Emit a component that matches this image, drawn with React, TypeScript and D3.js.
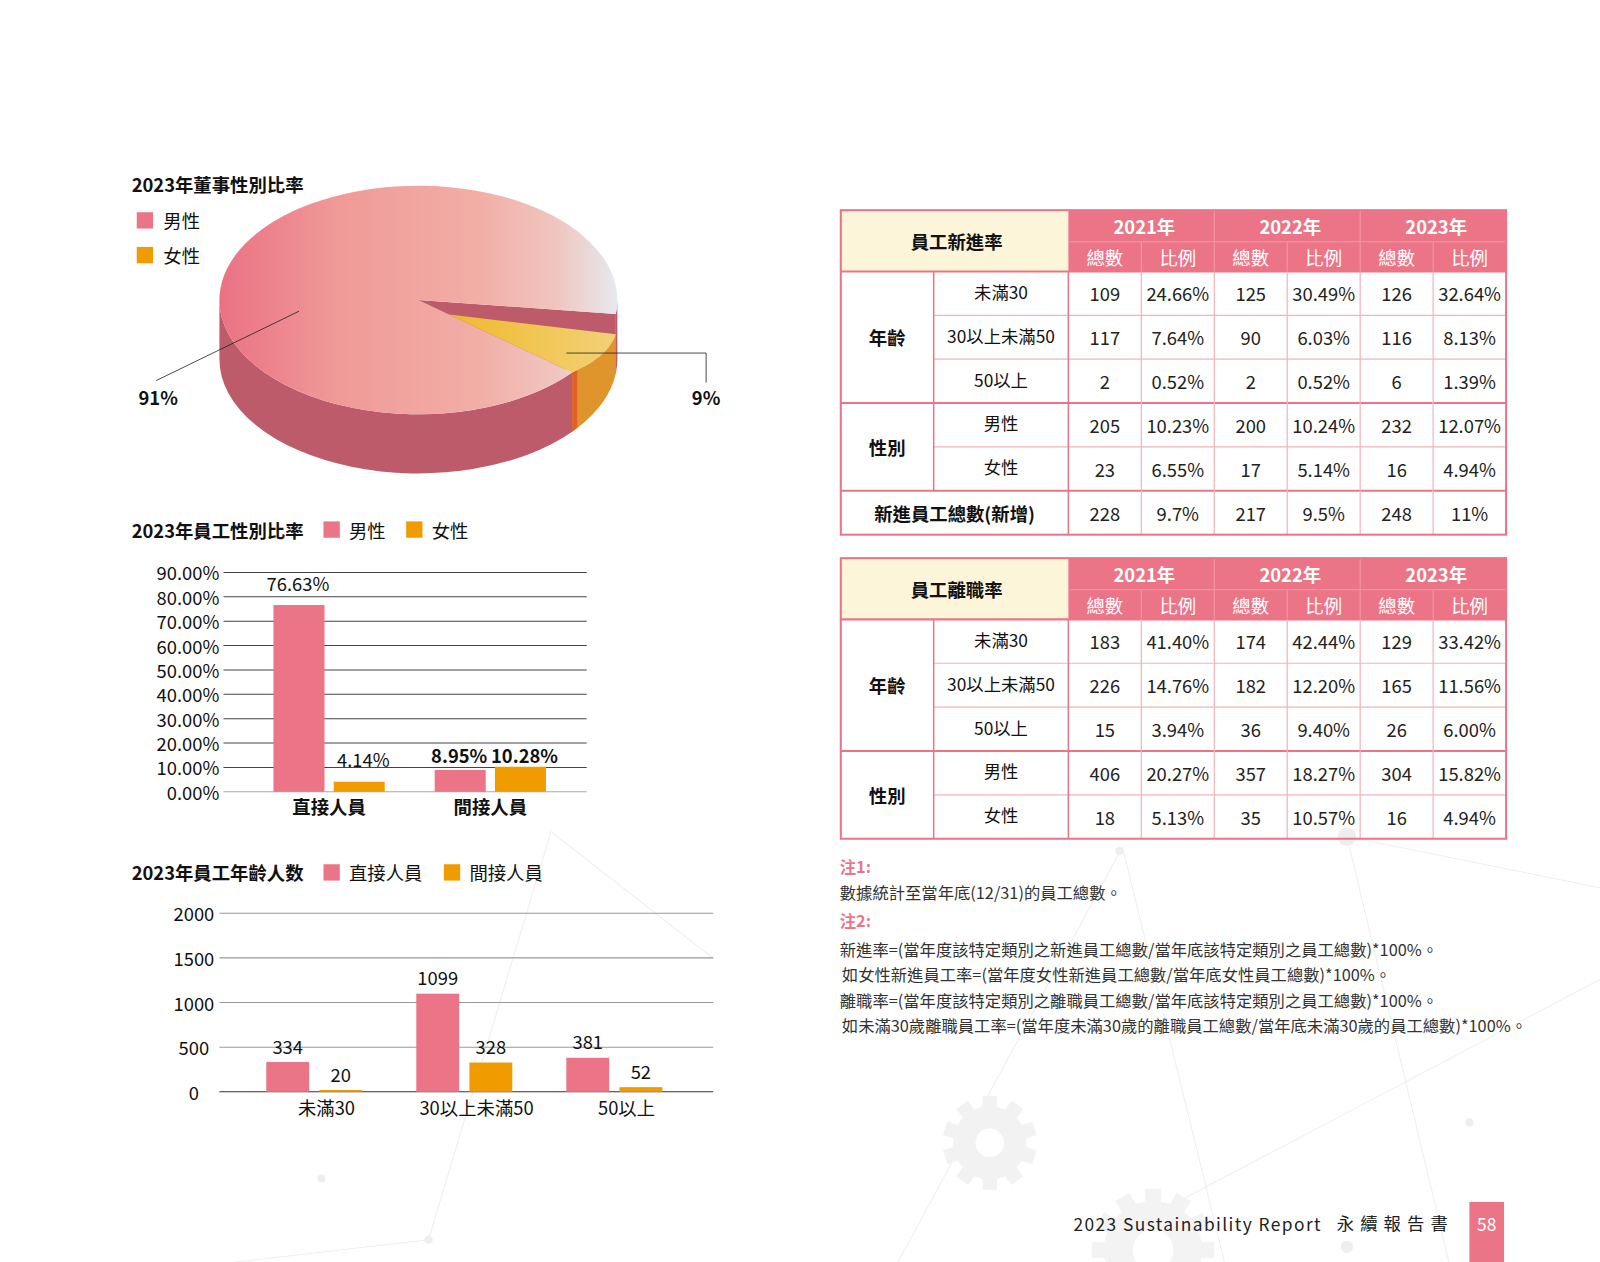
import { scaleBand, scaleLinear, pie, format, range } from "d3";

// ---- data ----
const genderLabels = ["男性", "女性"];
const boardShare = [91, 9];
const boardLabels = ["91%", "9%"];

const staffTypes = ["直接人員", "間接人員"];
const maleRatio = [76.63, 8.95];
const femaleRatio = [4.14, 10.28];

const ageGroups = ["未滿30", "30以上未滿50", "50以上"];
const directCount = [334, 1099, 381];
const indirectCount = [20, 328, 52];

const years = ["2021年", "2022年", "2023年"];
const subHeads = ["總數", "比例"];
const rowLabels = ["未滿30", "30以上未滿50", "50以上", "男性", "女性"];
const hireRows = [
  ["109", "24.66%", "125", "30.49%", "126", "32.64%"],
  ["117", "7.64%", "90", "6.03%", "116", "8.13%"],
  ["2", "0.52%", "2", "0.52%", "6", "1.39%"],
  ["205", "10.23%", "200", "10.24%", "232", "12.07%"],
  ["23", "6.55%", "17", "5.14%", "16", "4.94%"],
];
const hireTotal = ["228", "9.7%", "217", "9.5%", "248", "11%"];
const leaveRows = [
  ["183", "41.40%", "174", "42.44%", "129", "33.42%"],
  ["226", "14.76%", "182", "12.20%", "165", "11.56%"],
  ["15", "3.94%", "36", "9.40%", "26", "6.00%"],
  ["406", "20.27%", "357", "18.27%", "304", "15.82%"],
  ["18", "5.13%", "35", "10.57%", "16", "4.94%"],
];

const notes = [
  "新進率=(當年度該特定類別之新進員工總數/當年底該特定類別之員工總數)*100%。",
  "如女性新進員工率=(當年度女性新進員工總數/當年底女性員工總數)*100%。",
  "離職率=(當年度該特定類別之離職員工總數/當年底該特定類別之員工總數)*100%。",
  "如未滿30歲離職員工率=(當年度未滿30歲的離職員工總數/當年底未滿30歲的員工總數)*100%。",
];

const PINK = "#eb7587";
const ORANGE = "#f09c00";
const FONT = "'Noto Sans CJK TC', 'Noto Sans', sans-serif";

// ---- 3D pie ----
function Pie3D() {
  const cx = 410, cy = 294, rx = 195, ry = 112, depth = 58;
  const drop = 20; // how far the small slice sits below the big one at its outer edge
  const tStart = (7 * Math.PI) / 180;
  // order: female slice first, then male slice going clockwise
  const arcs = pie<number>()
    .sort(null)
    .startAngle(tStart + Math.PI / 2)
    .endAngle(tStart + Math.PI / 2 + 2 * Math.PI)([boardShare[1], boardShare[0]]);
  const fem = arcs[0], male = arcs[1];
  const toT = (a: number) => a - Math.PI / 2;

  const px = (t: number) => cx + rx * Math.cos(t);
  const py = (t: number, z = 0) => cy + ry * Math.sin(t) + z;
  const pt = (t: number, z = 0) => `${px(t)},${py(t, z)}`;

  const m0 = toT(male.startAngle), m1 = toT(male.endAngle);
  const f0 = toT(fem.startAngle), f1 = toT(fem.endAngle);

  const maleTop = `M${cx},${cy}L${pt(m0)}A${rx},${ry} 0 1 1 ${pt(m1)}Z`;
  const wall = (lo: number, hi: number) =>
    `M${pt(lo)}A${rx},${ry} 0 0 1 ${pt(hi)}L${pt(hi, depth)}A${rx},${ry} 0 0 0 ${pt(lo, depth)}Z`;
  const maleWalls = [wall(m0, Math.PI), wall(2 * Math.PI, m1)].join("");
  const maleFace = `M${cx},${cy}L${pt(m1)}L${pt(m1, depth)}L${cx},${cy + depth}Z`;

  // small slice: apex sits on the big slice's edge, top tilts down toward the outer rim
  const ax = cx + 0.2 * (px(f1) - cx), ay = cy + 0.2 * (py(f1) - cy);
  const ts = range(0, 21).map((i) => f0 + ((f1 - f0) * i) / 20);
  const zf = (t: number) => (drop * (f1 - t)) / (f1 - f0);
  const rim = ts.map((t) => `${px(t)},${py(t, zf(t))}`);
  const femTop = `M${ax},${ay}L${rim.join("L")}Z`;
  const femWall = `M${rim.join("L")}L${ts.slice().reverse().map((t) => pt(t, depth)).join("L")}Z`;
  const sx = px(f1), sy = py(f1);
  const femFace = `M${sx},${sy}L${sx + 5},${sy - 3}L${sx + 5},${sy + depth - 4}L${sx},${sy + depth}Z`;

  return (
    <g>
      <defs>
        <linearGradient id="maleTop" gradientUnits="userSpaceOnUse" x1={215} x2={605} y1={0} y2={0}>
          <stop offset="0" stopColor="#ea7283" />
          <stop offset="0.3" stopColor="#f09a98" />
          <stop offset="0.65" stopColor="#f2aea6" />
          <stop offset="0.85" stopColor="#f0c6c0" />
          <stop offset="1" stopColor="#e6e9ef" />
        </linearGradient>
        <linearGradient id="femTop" gradientUnits="userSpaceOnUse" x1={440} x2={610} y1={0} y2={0}>
          <stop offset="0" stopColor="#efb92c" />
          <stop offset="1" stopColor="#f2d27a" />
        </linearGradient>
      </defs>
      <path d={maleFace} fill="#bd5b6b" />
      <path d={maleWalls} fill="#bd5b6b" />
      <path d={maleTop} fill="url(#maleTop)" />
      <path d={femWall} fill="#e0952c" />
      <path d={femFace} fill="#e0602a" />
      <path d={femTop} fill="url(#femTop)" />
      {/* leader lines */}
      <polyline points="293,305 153,373" fill="none" stroke="#222" strokeWidth={0.8} />
      <polyline points="555,346 692,346 692,375" fill="none" stroke="#222" strokeWidth={0.8} />
      <text x={155} y={389} textAnchor="middle" dominantBaseline="central" fontWeight={700} fontSize={18}>
        {boardLabels[0]}
      </text>
      <text x={692} y={389} textAnchor="middle" dominantBaseline="central" fontWeight={700} fontSize={18}>
        {boardLabels[1]}
      </text>
    </g>
  );
}

function PieBlock() {
  return (
    <g>
      <text x={129} y={180} dominantBaseline="central" fontWeight={700} fontSize={18}>
        2023年董事性別比率
      </text>
      {genderLabels.map((g, i) => (
        <g key={g}>
          <rect x={134} y={208 + i * 34} width={16} height={16} fill={i === 0 ? PINK : ORANGE} />
          <text x={160} y={216 + i * 34} dominantBaseline="central" fontSize={18}>
            {g}
          </text>
        </g>
      ))}
      <Pie3D />
    </g>
  );
}

// ---- gender ratio bar chart ----
function RatioChart() {
  const y = scaleLinear().domain([0, 90]).range([776, 561]);
  const x = scaleBand<string>().domain(staffTypes).range([243.5, 559.5]).paddingInner(0.31).paddingOuter(0.155);
  const xs = scaleBand<string>().domain(genderLabels).range([0, x.bandwidth()]).paddingInner(0.153);
  const ticks = y.ticks(9);
  const fmt = format(".2f");
  const series = [maleRatio, femaleRatio];
  return (
    <g>
      <text x={129} y={519} dominantBaseline="central" fontWeight={700} fontSize={18}>
        2023年員工性別比率
      </text>
      <rect x={317} y={511} width={16} height={16} fill={PINK} />
      <text x={342} y={519} dominantBaseline="central" fontSize={18}>男性</text>
      <rect x={398} y={511} width={16} height={16} fill={ORANGE} />
      <text x={423} y={519} dominantBaseline="central" fontSize={18}>女性</text>
      {ticks.map((t) => (
        <g key={t}>
          <line x1={219} x2={575} y1={y(t)} y2={y(t)} stroke={t === 0 ? "#aaa" : "#444"} strokeWidth={1} />
          <text x={215} y={y(t)} textAnchor="end" dominantBaseline="central" fontSize={18}>
            {fmt(t)}%
          </text>
        </g>
      ))}
      {staffTypes.map((s, i) => (
        <g key={s}>
          {series.map((vals, j) => {
            const bx = x(s)! + xs(genderLabels[j])!;
            return (
              <g key={j}>
                <rect x={bx} y={y(vals[i])} width={xs.bandwidth()} height={y(0) - y(vals[i])} fill={j === 0 ? PINK : ORANGE} />
                <text
                  x={bx + xs.bandwidth() / 2 + (j === 0 ? -1 : 4)}
                  y={i === 1 ? 740 : y(vals[i]) - 22}
                  textAnchor="middle"
                  dominantBaseline="central"
                  fontSize={18}
                  fontWeight={i === 1 ? 700 : 400}
                >
                  {vals[i].toFixed(2)}%
                </text>
              </g>
            );
          })}
          <text x={x(s)! + x.bandwidth() / 2} y={790} textAnchor="middle" dominantBaseline="central" fontWeight={700} fontSize={18}>
            {s}
          </text>
        </g>
      ))}
    </g>
  );
}

// ---- age count bar chart ----
function AgeChart() {
  const y = scaleLinear().domain([0, 2000]).range([1070, 895]);
  const x = scaleBand<string>().domain(ageGroups).range([213, 697]).paddingInner(0.36).paddingOuter(0.326);
  const xs = scaleBand<string>().domain(staffTypes).range([0, x.bandwidth()]).paddingInner(0.192);
  const ticks = y.ticks(4);
  const series = [directCount, indirectCount];
  return (
    <g>
      <text x={129} y={855} dominantBaseline="central" fontWeight={700} fontSize={18}>
        2023年員工年齡人数
      </text>
      <rect x={317} y={847} width={16} height={16} fill={PINK} />
      <text x={342} y={855} dominantBaseline="central" fontSize={18}>{staffTypes[0]}</text>
      <rect x={435} y={847} width={16} height={16} fill={ORANGE} />
      <text x={460} y={855} dominantBaseline="central" fontSize={18}>{staffTypes[1]}</text>
      {ticks.map((t) => (
        <g key={t}>
          <line x1={215} x2={699} y1={y(t)} y2={y(t)} stroke={t === 0 ? "#333" : "#999"} strokeWidth={1} />
          <text x={190} y={y(t)} textAnchor="middle" dominantBaseline="central" fontSize={18}>
            {t}
          </text>
        </g>
      ))}
      {ageGroups.map((g, i) => (
        <g key={g}>
          {series.map((vals, j) => {
            const bx = x(g)! + xs(staffTypes[j])!;
            return (
              <g key={j}>
                <rect x={bx} y={y(vals[i])} width={xs.bandwidth()} height={y(0) - y(vals[i])} fill={j === 0 ? PINK : ORANGE} />
                <text x={bx + xs.bandwidth() / 2} y={y(vals[i]) - 16} textAnchor="middle" dominantBaseline="central" fontSize={18}>
                  {vals[i]}
                </text>
              </g>
            );
          })}
          <text x={x(g)! + x.bandwidth() / 2 + 12} y={1085} textAnchor="middle" dominantBaseline="central" fontSize={18}>
            {g}
          </text>
        </g>
      ))}
    </g>
  );
}

// ---- tables ----
type TableProps = { top: number; title: string; rows: string[][]; total?: string[]; totalLabel?: string };

function DataTable({ top, title, rows, total, totalLabel }: TableProps) {
  const left = 824, right = 1476, c1 = 915, c2 = 1047;
  const h1 = 31, h2 = 29, rh = 43;
  const bodyTop = top + h1 + h2;
  const allRows = total ? rows.length + 1 : rows.length;
  const bottom = bodyTop + allRows * rh;
  const cols = scaleBand<number>().domain([0, 1, 2, 3, 4, 5]).range([c2, right]);
  const yrs = scaleBand<string>().domain(years).range([c2, right]);
  const ry = scaleBand<number>().domain(Array.from({ length: allRows }, (_, i) => i)).range([bodyTop, bottom]);
  const light = "#f5b3bc";
  return (
    <g>
      <rect x={left} y={top} width={c2 - left} height={h1 + h2} fill="#fdf5d9" />
      <rect x={c2} y={top} width={right - c2} height={h1 + h2} fill={PINK} />
      <text x={(left + c2) / 2 + 2} y={top + (h1 + h2) / 2} textAnchor="middle" dominantBaseline="central" fontWeight={700} fontSize={18}>
        {title}
      </text>
      <line x1={c2} x2={right} y1={top + h1} y2={top + h1} stroke="#f29aa6" strokeWidth={1} />
      {years.map((yr) => (
        <text key={yr} x={yrs(yr)! + yrs.bandwidth() / 2 + 3} y={top + h1 / 2} textAnchor="middle" dominantBaseline="central" fill="#fff" fontWeight={700} fontSize={18}>
          {yr}
        </text>
      ))}
      {cols.domain().map((c) => (
        <text key={c} x={cols(c)! + cols.bandwidth() / 2} y={top + h1 + h2 / 2} textAnchor="middle" dominantBaseline="central" fill="#fff" fontSize={18}>
          {subHeads[c % 2]}
        </text>
      ))}
      {cols.domain().slice(1).map((c) => (
        <line key={c} x1={cols(c)!} x2={cols(c)!} y1={c % 2 === 0 ? top : top + h1} y2={top + h1 + h2} stroke="#f29aa6" strokeWidth={1} />
      ))}
      {/* body */}
      {rows.map((r, i) => (
        <g key={i}>
          <text x={(c1 + c2) / 2} y={ry(i)! + rh / 2 - 2} textAnchor="middle" dominantBaseline="central" fontSize={17}>
            {rowLabels[i]}
          </text>
          {r.map((v, j) => (
            <text key={j} x={cols(j)! + cols.bandwidth() / 2} y={ry(i)! + rh / 2} textAnchor="middle" dominantBaseline="central" fontSize={18} fill="#222">
              {v}
            </text>
          ))}
        </g>
      ))}
      {total && (
        <g>
          <text x={(left + c2) / 2} y={ry(rows.length)! + rh / 2} textAnchor="middle" dominantBaseline="central" fontWeight={700} fontSize={18}>
            {totalLabel}
          </text>
          {total.map((v, j) => (
            <text key={j} x={cols(j)! + cols.bandwidth() / 2} y={ry(rows.length)! + rh / 2} textAnchor="middle" dominantBaseline="central" fontSize={18} fill="#222">
              {v}
            </text>
          ))}
        </g>
      )}
      <text x={(left + c1) / 2} y={ry(1)! + rh / 2} textAnchor="middle" dominantBaseline="central" fontWeight={700} fontSize={18}>
        年齡
      </text>
      <text x={(left + c1) / 2} y={ry(3)! + rh} textAnchor="middle" dominantBaseline="central" fontWeight={700} fontSize={18}>
        性別
      </text>
      {/* thin row lines */}
      {[1, 2, 4].map((i) => (
        <line key={i} x1={c1} x2={right} y1={ry(i)!} y2={ry(i)!} stroke={light} strokeWidth={1.2} />
      ))}
      {/* group lines */}
      {(total ? [3, 5] : [3]).map((i) => (
        <line key={i} x1={left} x2={right} y1={ry(i)!} y2={ry(i)!} stroke={PINK} strokeWidth={2} />
      ))}
      <line x1={left} x2={right} y1={bodyTop} y2={bodyTop} stroke={PINK} strokeWidth={2} />
      {/* vertical lines */}
      <line x1={c1} x2={c1} y1={bodyTop} y2={ry(rows.length - 1)! + rh} stroke={PINK} strokeWidth={1.5} />
      <line x1={c2} x2={c2} y1={bodyTop} y2={bottom} stroke={PINK} strokeWidth={1.5} />
      {cols.domain().slice(1).map((c) => (
        <line key={c} x1={cols(c)!} x2={cols(c)!} y1={bodyTop} y2={bottom} stroke={light} strokeWidth={1.2} />
      ))}
      <rect x={left} y={top} width={right - left} height={bottom - top} fill="none" stroke={PINK} strokeWidth={2} />
    </g>
  );
}

function Notes() {
  return (
    <g fontSize={16} fill="#333">
      <text x={823} y={849} dominantBaseline="central" fill={PINK} fontWeight={700}>注1:</text>
      <text x={823} y={874} dominantBaseline="central">數據統計至當年底(12/31)的員工總數。</text>
      <text x={823} y={902} dominantBaseline="central" fill={PINK} fontWeight={700}>注2:</text>
      {notes.map((n, i) => (
        <text key={i} x={i % 2 === 1 ? 825 : 823} y={930 + i * 25} dominantBaseline="central">
          {n}
        </text>
      ))}
    </g>
  );
}

// faint background network lines and nodes
const bgLines: [number, number, number, number][] = [
  [420, 1215, 540, 815],
  [540, 815, 700, 940],
  [1320, 820, 1568, 870],
  [1320, 820, 1420, 1237],
  [1100, 830, 1200, 1237],
  [880, 1237, 1100, 830],
  [1150, 1180, 1568, 960],
  [230, 1237, 420, 1215],
];
const bgNodes: [number, number, number][] = [
  [1320, 820, 9], [1097, 834, 4], [315, 1155, 4], [420, 1215, 4], [1320, 1222, 6], [1440, 1100, 4],
];

function Background() {
  return (
    <g>
      {bgLines.map(([x1, y1, x2, y2], i) => (
        <line key={i} x1={x1} y1={y1} x2={x2} y2={y2} stroke="#eeeeee" strokeWidth={1} />
      ))}
      {bgNodes.map(([x, y, r], i) => (
        <circle key={i} cx={x} cy={y} r={r} fill="#eeeeee" />
      ))}
      <g transform="translate(970,1120)" fill="#f2f2f2">
        {range(0, 10).map((i) => (
          <rect key={i} x={-7} y={-46} width={14} height={14} transform={`rotate(${i * 36})`} />
        ))}
        <circle r={36} />
        <circle r={14} fill="#fff" />
      </g>
      <g transform="translate(1130,1225)" fill="#f3f3f3">
        {range(0, 12).map((i) => (
          <rect key={i} x={-8} y={-60} width={16} height={16} transform={`rotate(${i * 30})`} />
        ))}
        <circle r={48} />
        <circle r={20} fill="#fff" />
      </g>
    </g>
  );
}

function Footer() {
  return (
    <g>
      <text x={1052} y={1199} dominantBaseline="central" fontSize={17} letterSpacing={1.4} fill="#222">
        2023 Sustainability Report
      </text>
      <text x={1310} y={1198} dominantBaseline="central" fontSize={17} letterSpacing={6} fill="#222">
        永續報告書
      </text>
      <rect x={1440} y={1178} width={34} height={60} fill={PINK} />
      <text x={1457} y={1199} textAnchor="middle" dominantBaseline="central" fontSize={17} fill="#fff">
        58
      </text>
    </g>
  );
}

export default function App() {
  return (
    <svg
      width={1600}
      height={1262}
      viewBox="0 0 1568 1236.8"
      style={{ position: "absolute", left: 0, top: 0, background: "#fff" }}
      fontFamily={FONT}
      fill="#111"
    >
      <rect x={0} y={0} width={1568} height={1237} fill="#fff" />
      <Background />
      <PieBlock />
      <RatioChart />
      <AgeChart />
      <DataTable top={206} title="員工新進率" rows={hireRows} total={hireTotal} totalLabel="新進員工總數(新增)" />
      <DataTable top={547} title="員工離職率" rows={leaveRows} />
      <Notes />
      <Footer />
    </svg>
  );
}
